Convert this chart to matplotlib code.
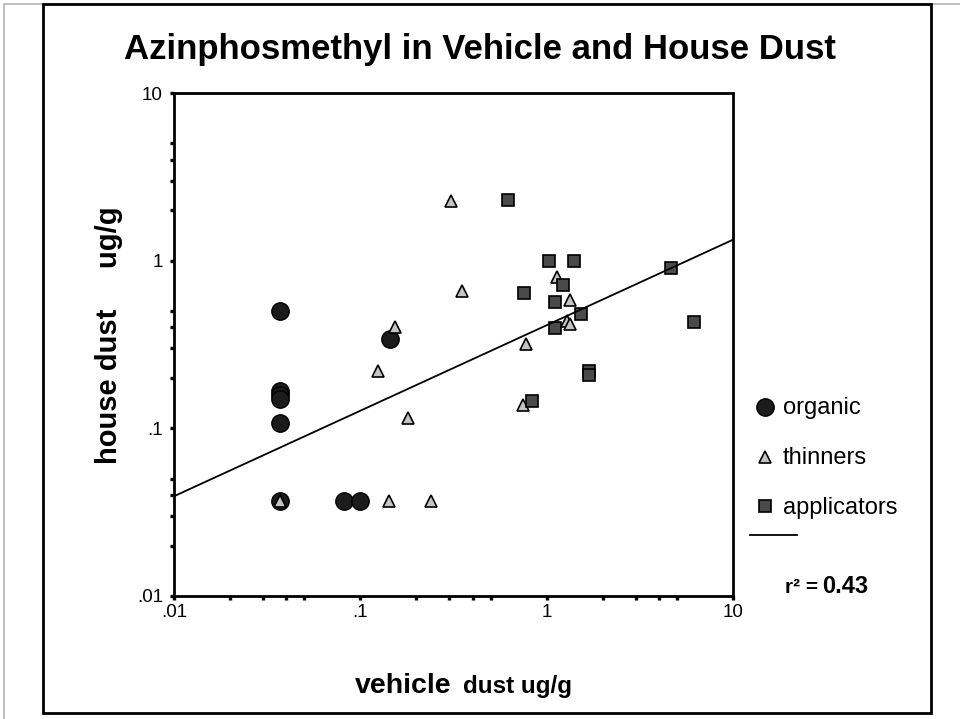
import numpy as np
from matplotlib import pyplot as plt
from matplotlib.lines import Line2D
from matplotlib.patches import Rectangle
from matplotlib.ticker import LogLocator, FixedLocator, NullFormatter

plt.rcParams['font.family'] = ['Liberation Sans', 'DejaVu Sans']

# -----------------------------
# Data (ug/g)
# -----------------------------
organic_x = [0.037, 0.037, 0.037, 0.037, 0.037, 0.037, 0.082, 0.099, 0.145]
organic_y = [0.50, 0.166, 0.157, 0.150, 0.107, 0.037, 0.037, 0.037, 0.34]

thinners_x = [0.037, 0.143, 0.24, 0.18, 0.125, 0.154, 0.307, 0.35,
              1.13, 1.34, 1.28, 1.34, 0.773, 0.745]
thinners_y = [0.037, 0.037, 0.037, 0.116, 0.219, 0.40, 2.27, 0.66,
              0.80, 0.586, 0.435, 0.42, 0.32, 0.137]

applicators_x = [0.62, 1.025, 1.41, 0.76, 1.22, 1.11, 1.52, 1.11,
                 4.66, 6.2, 1.68, 1.68, 0.83]
applicators_y = [2.31, 0.99, 1.0, 0.64, 0.72, 0.57, 0.48, 0.394,
                 0.91, 0.43, 0.219, 0.207, 0.145]

# log10(y) = intercept + slope * log10(x)
fit_intercept = -0.385
fit_slope = 0.51
r_squared = "0.43"

x_ticks = [0.01, 0.1, 1, 10]
x_labels = [".01", ".1", "1", "10"]
y_ticks = [0.01, 0.1, 1, 10]
y_labels = [".01", ".1", "1", "10"]

W, H = 960, 719


def fx(px):
    return px / W


def fy(py):
    return 1 - py / H


def main():
    fig = plt.figure(figsize=(9.6, 7.19), dpi=100)

    # page frame (light grey) and chart frame (black)
    fig.add_artist(Rectangle((fx(4), fy(730)), fx(970) - fx(4), fy(4) - fy(730),
                             transform=fig.transFigure, fill=False,
                             edgecolor="#b4b4b4", linewidth=1.2))
    fig.add_artist(Rectangle((fx(43), fy(713)), fx(931) - fx(43), fy(4) - fy(713),
                             transform=fig.transFigure, fill=False,
                             edgecolor="black", linewidth=2, facecolor="white"))

    ax = fig.add_axes([fx(174), fy(596), fx(733) - fx(174), fy(93) - fy(596)])
    ax.set_xscale("log")
    ax.set_yscale("log")
    ax.set_xlim(0.01, 10)
    ax.set_ylim(0.01, 10)

    ax.plot(organic_x, organic_y, "o", ms=12.5, mfc="#1c1c1c", mec="black",
            mew=1, zorder=3)
    ax.plot(thinners_x, thinners_y, "^", ms=8.5, mfc="#c4c4c4", mec="black",
            mew=1.2, zorder=4)
    ax.plot(applicators_x, applicators_y, "s", ms=8.8, mfc="#4a4a4a", mec="black",
            mew=1.2, zorder=5)

    # regression line
    xs = np.array([0.01, 10])
    ys = 10 ** (fit_intercept + fit_slope * np.log10(xs))
    ax.plot(xs, ys, color="black", lw=1.3, zorder=6)

    # axes styling
    for s in ax.spines.values():
        s.set_linewidth(2)
    ax.xaxis.set_major_locator(FixedLocator(x_ticks))
    ax.yaxis.set_major_locator(FixedLocator(y_ticks))
    ax.set_xticklabels(x_labels)
    ax.set_yticklabels(y_labels)
    ax.xaxis.set_minor_locator(LogLocator(subs=[2, 3, 4, 5]))
    ax.yaxis.set_minor_locator(LogLocator(subs=[2, 3, 4, 5]))
    ax.xaxis.set_minor_formatter(NullFormatter())
    ax.yaxis.set_minor_formatter(NullFormatter())
    ax.tick_params(which="both", direction="out", length=3, width=2.4,
                   labelsize=13.5)
    ax.tick_params(axis="y", pad=5)
    ax.tick_params(axis="x", pad=3)

    # titles and axis labels
    fig.text(0.5, fy(59), "Azinphosmethyl in Vehicle and House Dust",
             ha="center", va="baseline", fontsize=25, weight="bold")
    fig.text(fx(109), fy(335), "house dust     ug/g", rotation=90,
             ha="center", va="center", fontsize=21, weight="bold")
    fig.text(fx(355), fy(693), "vehicle", ha="left", va="baseline",
             fontsize=20.5, weight="bold")
    fig.text(fx(463), fy(693), "dust ug/g", ha="left", va="baseline",
             fontsize=17.5, weight="bold")

    # legend drawn by hand
    fig.add_artist(Line2D([fx(765)], [fy(407)], marker="o", ms=12.5,
                          mfc="#1c1c1c", mec="black", mew=1,
                          transform=fig.transFigure))
    fig.add_artist(Line2D([fx(765)], [fy(457)], marker="^", ms=8.5,
                          mfc="#c4c4c4", mec="black", mew=1.2,
                          transform=fig.transFigure))
    fig.add_artist(Line2D([fx(765)], [fy(506)], marker="s", ms=8.8,
                          mfc="#4a4a4a", mec="black", mew=1.2,
                          transform=fig.transFigure))
    fig.add_artist(Line2D([fx(750), fx(797)], [fy(535), fy(535)], color="black",
                          lw=1.3, transform=fig.transFigure))
    for label, py in [("organic", 408), ("thinners", 458), ("applicators", 508)]:
        fig.text(fx(783), fy(py), label, ha="left", va="center", fontsize=17)
    fig.text(fx(785), fy(593), "r² =", ha="left", va="baseline",
             fontsize=15, weight="bold")
    fig.text(fx(822), fy(593), r_squared, ha="left", va="baseline",
             fontsize=17, weight="bold")

    fig.savefig("out.png", dpi=100)


if __name__ == "__main__":
    main()
